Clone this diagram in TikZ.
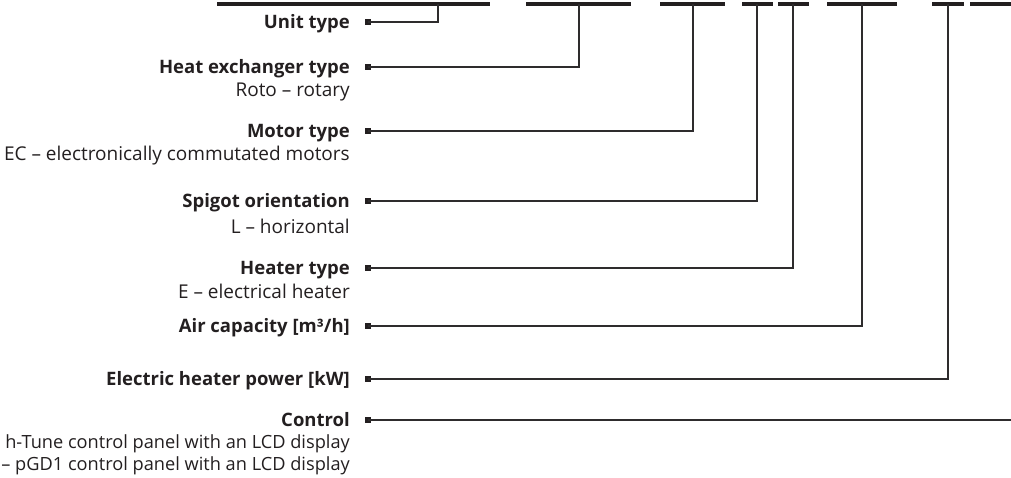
\documentclass[tikz,border=0pt]{standalone}
\usepackage{fontspec}
\setmainfont{Open Sans}
\definecolor{ink}{HTML}{231F20}
\definecolor{wire}{HTML}{2E2C2D}
\begin{document}
\begin{tikzpicture}[x=1pt,y=-1pt,
  lbl/.style={anchor=east,inner sep=0pt,text height=13.3pt,text depth=0pt,font=\fontsize{18.5}{21}\selectfont\bfseries,text=ink},
  desc/.style={anchor=base east,inner sep=0pt,font=\fontsize{19}{21}\selectfont,text=ink},
  descs/.style={desc,font=\fontsize{18.2}{21}\selectfont},
  sq/.style={rectangle,fill=ink,inner sep=0pt,minimum size=6pt},
  bar/.style={line width=4pt,draw=ink},
  wirel/.style={line width=1.3pt,draw=wire}]
\useasboundingbox (0,0) rectangle (1011,477);
\begin{scope}
\clip (0,0) rectangle (1011,477);
% code bars
\draw[bar] (217,4) -- (490,4);
\draw[bar] (526,4) -- (631,4);
\draw[bar] (660,4) -- (725,4);
\draw[bar] (742,4) -- (773,4);
\draw[bar] (778,4) -- (809,4);
\draw[bar] (827,4) -- (897,4);
\draw[bar] (932,4) -- (964,4);
\draw[bar] (970,4) -- (1060,4);
\coordinate (b1) at (438,4);
\coordinate (b2) at (579,4);
\coordinate (b3) at (693,4);
\coordinate (b4) at (757,4);
\coordinate (b5) at (793,4);
\coordinate (b6) at (862,4);
\coordinate (b7) at (948,4);
\coordinate (b8) at (1030,4);
% labels
\node[lbl] (l1) at (350,22) {Unit type};
\node[lbl] (l2) at (350,67) {Heat exchanger type};
\node[desc] (d2) at (350,96) {Roto – rotary};
\node[lbl] (l3) at (350,131) {Motor type};
\node[desc] (d3) at (350,160) {EC – electronically commutated motors};
\node[lbl] (l4) at (350,201) {Spigot orientation};
\node[desc] (d4) at (350,233) {L – horizontal};
\node[lbl] (l5) at (350,268) {Heater type};
\node[desc] (d5) at (350,298) {E – electrical heater};
\node[lbl] (l6) at (350,326) {Air capacity [m³/h]};
\node[lbl] (l7) at (350,379) {Electric heater power [kW]};
\node[lbl] (l8) at (350,420) {Control};
\node[descs] (d8a) at (350,448) {h-Tune control panel with an LCD display};
\node[descs] (d8b) at (350,470) {– pGD1 control panel with an LCD display};
% squares
\node[sq] (s1) at (368,22) {};
\node[sq] (s2) at (368,67) {};
\node[sq] (s3) at (368,131) {};
\node[sq] (s4) at (368,201) {};
\node[sq] (s5) at (368,268) {};
\node[sq] (s6) at (368,326) {};
\node[sq] (s7) at (368,379) {};
\node[sq] (s8) at (368,420) {};
% connectors
\draw[wirel] (s1.center) -| (b1);
\draw[wirel] (s2.center) -| (b2);
\draw[wirel] (s3.center) -| (b3);
\draw[wirel] (s4.center) -| (b4);
\draw[wirel] (s5.center) -| (b5);
\draw[wirel] (s6.center) -| (b6);
\draw[wirel] (s7.center) -| (b7);
\draw[wirel] (s8.center) -| (b8);
\end{scope}
\end{tikzpicture}
\end{document}
